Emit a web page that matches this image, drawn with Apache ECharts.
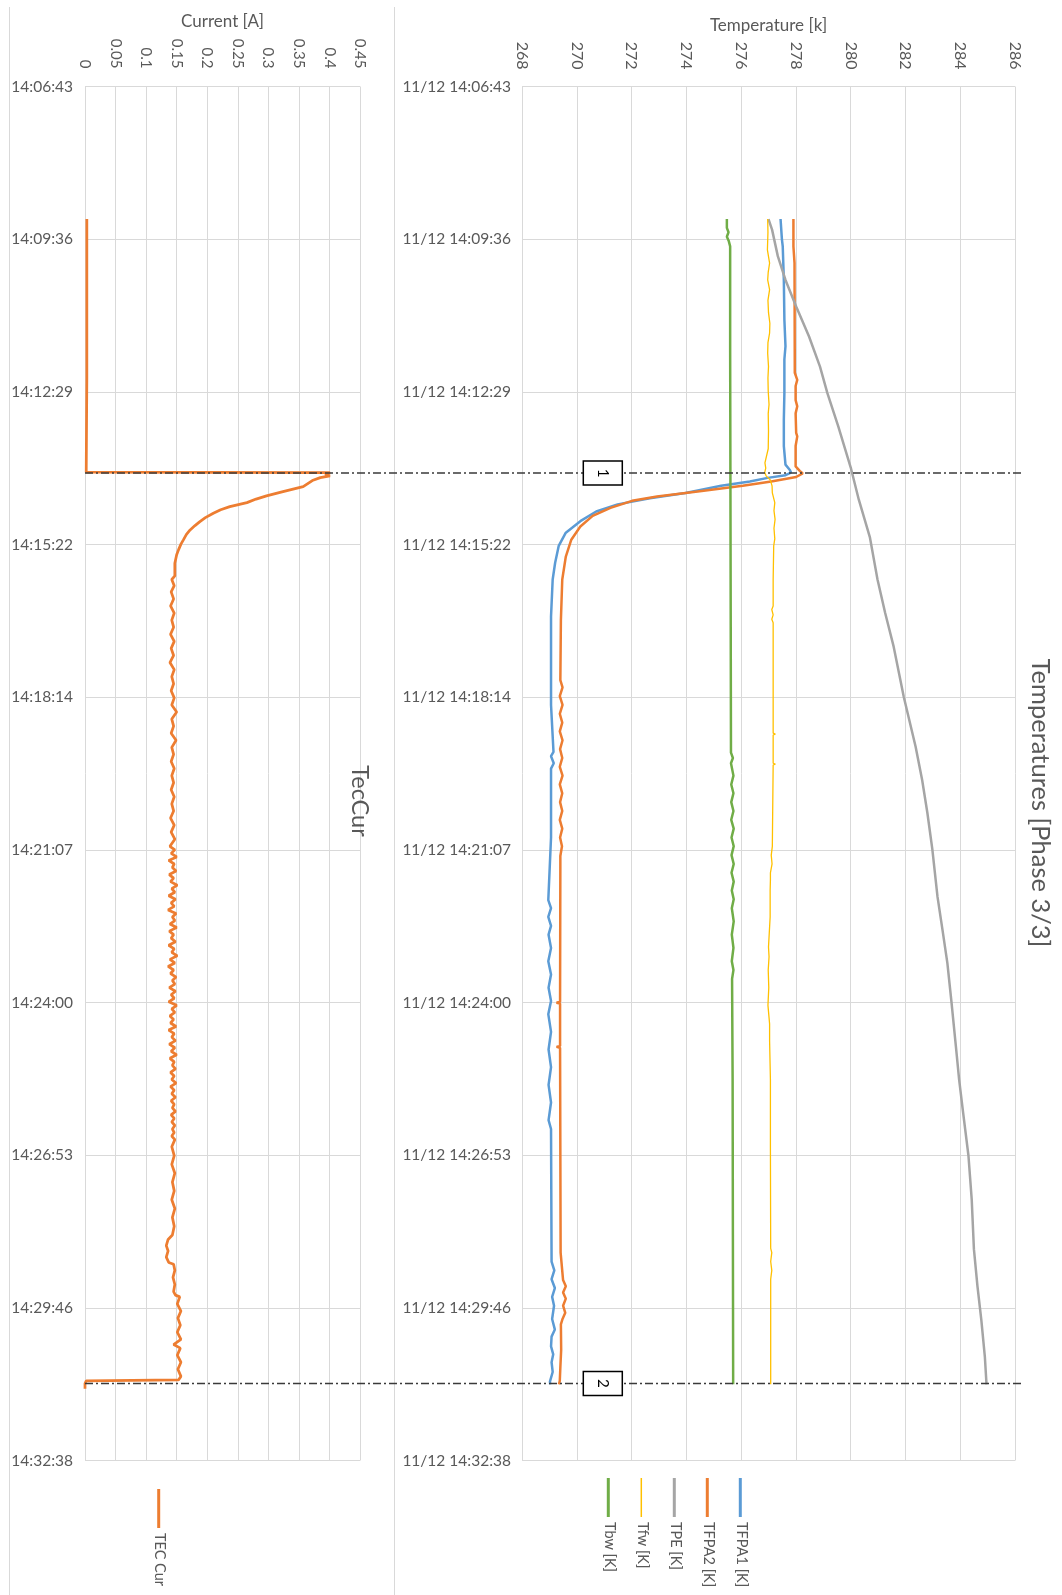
<!DOCTYPE html>
<html><head><meta charset="utf-8">
<script src="https://cdn.jsdelivr.net/npm/echarts@6/dist/echarts.min.js"></script>
<style>html,body{margin:0;padding:0;background:#fff}#c{width:1062px;height:1595px}</style>
</head><body><div id="c"></div>
<script>
// time is in seconds elapsed from the first tick (14:06:43.7); one major tick = 172.8 s
const TICK = 172.8;
const timeTicks = ['14:06:43','14:09:36','14:12:29','14:15:22','14:18:14','14:21:07','14:24:00','14:26:53','14:29:46','14:32:38'];
const dateTimeTicks = ['11/12 14:06:43','11/12 14:09:36','11/12 14:12:29','11/12 14:15:22','11/12 14:18:14','11/12 14:21:07','11/12 14:24:00','11/12 14:26:53','11/12 14:29:46','11/12 14:32:38'];

// [time s, current A]
const tecCur = [[150,0.003],[164,0.003],[165,0.005],[166,0.003],[205,0.003],[206,0.005],[207,0.003],[305,0.003],[306,0.005],[307,0.003],[330,0.003],[331,0.005],[332,0.003],[436.5,0.002],
[437,0.401],[439.6,0.393],[440.8,0.401],[442.7,0.385],[446,0.372],[452.9,0.357],[458.5,0.324],[463.4,0.297],[467,0.28],[471,0.265],[475.5,0.237],[479,0.222],[483,0.21],[488,0.197],[492.5,0.188],[497,0.18],[501.9,0.172],[507,0.166],[513.2,0.161],[518,0.157],[524.5,0.153],[530,0.150],[539.6,0.147],[554,0.147],
[558,0.142],[565,0.146],[572,0.141],[580,0.145],[588,0.140],[596,0.146],[604,0.142],[612,0.145],[620,0.140],[628,0.146],[636,0.141],[644,0.145],[652,0.139],[660,0.146],[668,0.142],[676,0.145],[684,0.141],[692,0.146],[700,0.142],[708,0.150],[716,0.142],[724,0.145],[732,0.141],[740,0.149],[748,0.142],[756,0.145],[764,0.141],[772,0.146],[780,0.142],[788,0.145],[796,0.141],[804,0.146],[812,0.142],[820,0.145],[828,0.140],[836,0.146],[844,0.141],[852,0.147],
[860,0.139],[864,0.147],[868,0.141],[872,0.150],[876,0.137],[880,0.146],[884,0.143],[888,0.149],[892,0.138],[896,0.145],[900,0.140],[904,0.151],[908,0.142],[912,0.147],[916,0.137],[920,0.148],[924,0.141],[928,0.146],[932,0.136],[936,0.149],[940,0.143],[944,0.147],[948,0.139],[952,0.150],[956,0.138],[960,0.145],[964,0.141],[968,0.148],[972,0.137],[976,0.146],[980,0.142],[984,0.151],[988,0.139],[992,0.147],[996,0.136],[1000,0.145],[1004,0.140],[1008,0.149],[1012,0.143],[1016,0.147],[1020,0.138],[1024,0.148],[1028,0.141],[1032,0.146],[1036,0.137],[1040,0.150],[1044,0.142],[1048,0.147],[1052,0.139],[1056,0.145],[1060,0.140],[1064,0.149],[1068,0.137],[1072,0.146],[1076,0.142],[1080,0.148],[1084,0.138],[1088,0.147],[1092,0.141],[1096,0.150],[1100,0.139],[1104,0.146],[1108,0.143],[1112,0.148],[1116,0.140],[1120,0.146],[1124,0.142],[1128,0.149],[1132,0.140],[1136,0.146],[1140,0.142],[1144,0.148],[1148,0.141],[1152,0.146],[1156,0.143],[1160,0.148],[1164,0.141],[1168,0.146],[1172,0.142],[1176,0.147],[1180,0.143],[1184,0.146],[1188,0.142],[1192,0.147],
[1200,0.142],[1210,0.146],[1220,0.142],[1230,0.147],[1240,0.143],[1250,0.146],[1260,0.142],[1270,0.147],[1280,0.143],[1290,0.146],[1300,0.143],
[1305,0.136],[1312,0.133],[1318,0.136],[1325,0.133],[1331,0.137],
[1333,0.145],[1340,0.147],[1348,0.144],[1356,0.147],[1364,0.145],[1368,0.148],
[1370,0.155],[1378,0.151],[1386,0.157],[1394,0.152],[1402,0.156],[1410,0.151],[1418,0.157],[1424,0.145],[1428,0.156],[1436,0.151],[1444,0.157],[1452,0.152],[1460,0.157],[1464,0.153],
[1465,0.002],[1468,0.0],[1474,0.0]];

// [time s, temperature K]
const tfpa1 = [[150,277.44],[173,277.49],[181,277.52],[219,277.56],[264,277.58],[294,277.62],[309,277.58],[347,277.58],[377,277.56],[407,277.56],[428,277.62],[434,277.78],[437,277.82],[440,277.62],[443,276.97],[447,276.32],[452,275.27],[460,273.97],[466,272.67],[473,271.49],[481,270.71],[492,270.13],[505,269.6],[520,269.34],[539,269.21],[558,269.12],[600,269.06],[700,269.06],[753,269.15],[758,269.06],[766,269.16],[772,269.06],[850,269.06],[921,268.96],[930,269.06],[940,268.96],[950,269.06],[960,268.97],[975,269.06],[990,268.96],[1005,269.06],[1020,268.97],[1035,269.06],[1050,268.96],[1070,269.06],[1090,268.97],[1110,269.06],[1130,268.97],[1150,269.06],[1170,268.97],[1180,269.06],[1330,269.08],[1340,269.18],[1350,269.08],[1360,269.2],[1370,269.1],[1380,269.17],[1395,269.1],[1407,269.2],[1415,269.08],[1426,269.06],[1435,269.14],[1444,269.08],[1455,269.12],[1466,269.02],[1469,269.03]];
const tfpa2 = [[150,277.91],[181,277.91],[200,277.95],[324,277.96],[332,278.05],[339,277.99],[355,277.99],[362,278.05],[370,277.99],[392,278.01],[396,278.05],[407,277.99],[430,277.99],[435,278.14],[438,278.25],[442,278.01],[447,277.1],[452,276.06],[458,274.49],[464,272.93],[469,272.02],[477,271.23],[486,270.58],[498,270.13],[513,269.8],[532,269.6],[558,269.47],[604,269.42],[672,269.4],[680,269.48],[690,269.38],[700,269.48],[710,269.38],[720,269.47],[730,269.38],[740,269.48],[750,269.39],[760,269.47],[770,269.38],[780,269.48],[790,269.38],[800,269.47],[810,269.39],[820,269.47],[830,269.38],[840,269.47],[850,269.39],[860,269.46],[871,269.4],[884,269.4],[1036,269.39],[1037,269.26],[1038,269.39],[1086,269.39],[1087,269.26],[1088,269.39],[1320,269.41],[1351,269.5],[1358,269.6],[1365,269.5],[1372,269.6],[1380,269.5],[1388,269.58],[1395,269.48],[1401,269.42],[1430,269.43],[1450,269.4],[1465,269.38],[1469,269.35]];
const tpe = [[150,277.0],[162,277.13],[192,277.34],[219,277.62],[249,278.01],[283,278.48],[317,278.88],[347,279.15],[385,279.55],[431,280.0],[468,280.3],[510,280.7],[558,280.98],[596,281.26],[634,281.57],[691,281.94],[747,282.37],[785,282.61],[822,282.8],[863,282.98],[917,283.17],[954,283.35],[992,283.53],[1036,283.68],[1086,283.84],[1124,283.96],[1160,284.1],[1210,284.3],[1260,284.42],[1316,284.5],[1358,284.63],[1396,284.77],[1438,284.9],[1469,284.96]];
const tfw = [[150,276.97],[165,276.98],[185,276.96],[200,277.04],[210,276.99],[219,276.97],[230,277.04],[242,276.98],[256,277.0],[268,277.05],[279,277.04],[290,276.98],[302,276.97],[317,277.0],[330,276.98],[345,276.99],[360,277.02],[370,276.99],[390,277.0],[410,276.99],[426,276.87],[432,276.9],[437,276.86],[441,276.92],[445,277.06],[452,277.13],[460,277.14],[471,277.23],[480,277.2],[490,277.24],[500,277.2],[512,277.23],[520,277.19],[558,277.17],[588,277.17],[592,277.12],[598,277.17],[603,277.12],[607,277.17],[700,277.17],[732,277.17],[733,277.25],[734,277.17],[766,277.17],[767,277.25],[768,277.17],[860,277.14],[870,277.1],[880,277.13],[890,277.07],[898,277.07],[910,277.06],[940,277.06],[974,277.0],[985,277.02],[1000,276.99],[1020,277.01],[1040,276.98],[1061,277.04],[1080,277.04],[1124,277.07],[1200,277.07],[1315,277.08],[1320,277.12],[1330,277.08],[1340,277.12],[1350,277.08],[1469,277.08]];
const tbw = [[150,275.48],[160,275.48],[165,275.54],[170,275.48],[175,275.55],[181,275.6],[300,275.6],[600,275.62],[754,275.63],[760,275.7],[766,275.63],[780,275.72],[790,275.64],[800,275.72],[810,275.64],[820,275.72],[830,275.64],[840,275.73],[850,275.65],[860,275.73],[870,275.65],[880,275.73],[890,275.65],[900,275.73],[910,275.66],[920,275.73],[930,275.66],[945,275.73],[960,275.66],[975,275.72],[990,275.66],[1000,275.72],[1010,275.67],[1124,275.69],[1300,275.7],[1469,275.71]];

const events = [{label:'1', t:437.5},{label:'2', t:1468}];

const FONT = 'Lato, "Liberation Sans", Arial, sans-serif';
const TXT = '#595959';
const GRIDC = '#d9d9d9';
const C = {blue:'#5B9BD5', orange:'#ED7D31', gray:'#A5A5A5', yellow:'#FFC000', green:'#70AD47'};

const chart = echarts.init(document.getElementById('c'));
const flip = arr => arr.map(p => [p[1], p[0]]);

function line(name, data, color, width, xi) {
  return {name, type:'line', xAxisIndex:xi, yAxisIndex:xi, data:flip(data), showSymbol:false, symbol:'none',
    lineStyle:{color, width}, itemStyle:{color}, animation:false, clip:true};
}

const valAxisCommon = {type:'value', position:'top', axisLine:{show:false}, axisTick:{show:false},
  splitLine:{show:true, lineStyle:{color:GRIDC, width:1}}, nameLocation:'middle'};
const timeAxisCommon = {type:'value', inverse:true, min:0, max:TICK*9, interval:TICK,
  axisLine:{show:false}, axisTick:{show:false}, splitLine:{show:true, lineStyle:{color:GRIDC, width:1}}};

const option = {
  backgroundColor:'#fff',
  animation:false,
  grid:[
    {left:85, top:86.5, width:275, height:1374, outerBoundsMode:'none', containLabel:false},
    {left:522, top:86.5, width:493, height:1374, outerBoundsMode:'none', containLabel:false}
  ],
  xAxis:[
    Object.assign({}, valAxisCommon, {gridIndex:0, min:0, max:0.45, interval:0.05, name:'Current [A]', nameGap:56,
      nameTextStyle:{color:TXT, fontSize:17, fontFamily:FONT},
      axisLabel:{rotate:-90, color:TXT, fontSize:15, fontFamily:FONT, margin:18, showMinLabel:true, showMaxLabel:true}}),
    Object.assign({}, valAxisCommon, {gridIndex:1, min:268, max:286, interval:2, name:'Temperature [k]', nameGap:50,
      nameTextStyle:{color:TXT, fontSize:17, fontFamily:FONT},
      axisLabel:{rotate:-90, color:TXT, fontSize:16, fontFamily:FONT, margin:17, showMinLabel:true, showMaxLabel:true}})
  ],
  yAxis:[
    Object.assign({}, timeAxisCommon, {gridIndex:0,
      axisLabel:{formatter:v => timeTicks[Math.round(v/TICK)], color:TXT, fontSize:15.5, fontFamily:FONT, margin:12, showMinLabel:true, showMaxLabel:true}}),
    Object.assign({}, timeAxisCommon, {gridIndex:1,
      axisLabel:{formatter:v => dateTimeTicks[Math.round(v/TICK)], color:TXT, fontSize:15.5, fontFamily:FONT, margin:11, showMinLabel:true, showMaxLabel:true}})
  ],
  series:[
    line('TEC Cur', tecCur, C.orange, 2.75, 0),
    line('TFPA1 [K]', tfpa1, C.blue, 2.5, 1),
    line('TFPA2 [K]', tfpa2, C.orange, 2.5, 1),
    line('TPE [K]', tpe, C.gray, 2.5, 1),
    line('Tfw [K]', tfw, C.yellow, 1.3, 1),
    line('Tbw [K]', tbw, C.green, 2.5, 1)
  ]
};
chart.setOption(option);

const g = [];
// chart-area borders
g.push({type:'line', silent:true, shape:{x1:9.5,y1:7,x2:9.5,y2:1595}, style:{stroke:GRIDC, lineWidth:1}});
g.push({type:'line', silent:true, shape:{x1:394.5,y1:7,x2:394.5,y2:1595}, style:{stroke:GRIDC, lineWidth:1}});

// event markers
const xl = chart.convertToPixel({xAxisIndex:0}, 0);
const xr = chart.convertToPixel({xAxisIndex:1}, 286) + 6;
const xb = chart.convertToPixel({xAxisIndex:1}, 270.95);
events.forEach(ev => {
  const y = chart.convertToPixel({yAxisIndex:1}, ev.t);
  g.push({type:'line', z:100, silent:true, shape:{x1:xl,y1:y,x2:xr,y2:y}, style:{stroke:'#3a3a3a', lineWidth:1.5, lineDash:[8,3,2,3]}});
  g.push({type:'rect', z:101, silent:true, shape:{x:xb-19.5, y:y-12, width:39, height:24}, style:{fill:'#fff', stroke:'#000', lineWidth:1.5}});
  g.push({type:'text', z:102, silent:true, x:xb, y:y, rotation:-Math.PI/2, style:{text:ev.label, fill:'#000', fontSize:15, fontFamily:FONT, align:'center', verticalAlign:'middle'}});
});

// panel titles (rotated)
g.push({type:'text', silent:true, x:1040, y:803, rotation:-Math.PI/2, style:{text:'Temperatures [Phase 3/3]', fill:TXT, fontSize:25.5, fontFamily:FONT, align:'center', verticalAlign:'middle'}});
g.push({type:'text', silent:true, x:359.5, y:801, rotation:-Math.PI/2, style:{text:'TecCur', fill:TXT, fontSize:23.5, fontFamily:FONT, align:'center', verticalAlign:'middle'}});

// legends (rotated)
function legendItem(x, yTop, name, color, w) {
  g.push({type:'line', silent:true, shape:{x1:x,y1:yTop,x2:x,y2:yTop+39}, style:{stroke:color, lineWidth:w}});
  g.push({type:'text', silent:true, x:x+1, y:yTop+44, rotation:-Math.PI/2, style:{text:name, fill:TXT, fontSize:14.5, fontFamily:FONT, align:'left', verticalAlign:'middle'}});
}
legendItem(158.7, 1489, 'TEC Cur', C.orange, 3);
const rightLegend = [['Tbw [K]', C.green, 3], ['Tfw [K]', C.yellow, 1.5], ['TPE [K]', C.gray, 3], ['TFPA2 [K]', C.orange, 3], ['TFPA1 [K]', C.blue, 3]];
rightLegend.forEach((it, i) => legendItem(608.3 + i*33, 1478, it[0], it[1], it[2]));

chart.setOption({graphic:g});
</script>
</body></html>
